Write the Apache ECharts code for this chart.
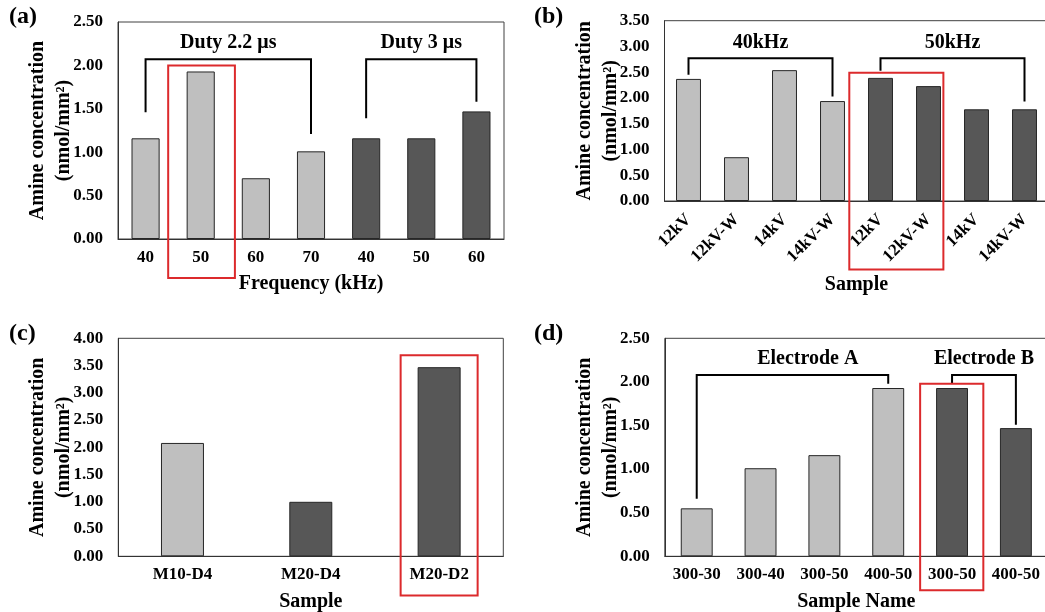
<!DOCTYPE html>
<html>
<head>
<meta charset="utf-8">
<script src="https://cdn.jsdelivr.net/npm/echarts@6/dist/echarts.min.js"></script>
<style>
  html, body { margin: 0; padding: 0; background: #fff; }
  #chart { width: 1045px; height: 612px; }
</style>
</head>
<body>
<div id="chart"></div>
<script>
// (a) frequency
const freqLabels = ['40', '50', '60', '70', '40', '50', '60'];
const freqValues = [1.16, 1.93, 0.70, 1.01, 1.16, 1.16, 1.47];
const freqGroup = [0, 0, 0, 0, 1, 1, 1];

// (b) voltage
const voltLabels = ['12kV', '12kV-W', '14kV', '14kV-W', '12kV', '12kV-W', '14kV', '14kV-W'];
const voltValues = [2.37, 0.85, 2.54, 1.94, 2.39, 2.23, 1.78, 1.78];
const voltGroup = [0, 0, 0, 0, 1, 1, 1, 1];

// (c) mesh
const meshLabels = ['M10-D4', 'M20-D4', 'M20-D2'];
const meshValues = [2.08, 1.00, 3.47];
const meshGroup = [0, 1, 1];

// (d) electrode
const electrodeLabels = ['300-30', '300-40', '300-50', '400-50', '300-50', '400-50'];
const electrodeValues = [0.55, 1.01, 1.16, 1.93, 1.93, 1.47];
const electrodeGroup = [0, 0, 0, 0, 1, 1];

const yMax = [2.5, 3.5, 4.0, 2.5];

// group brackets: category index range, leg heights, label
const bracketsA = [
  {text: 'Duty 2.2 μs', from: 0, to: 3, left: 1.46, top: 2.07, right: 1.21, textY: 2.26},
  {text: 'Duty 3 μs', from: 4, to: 6, left: 1.39, top: 2.07, right: 1.58, textY: 2.26}
];
const bracketsB = [
  {text: '40kHz', from: 0, to: 3, left: 2.45, top: 2.77, right: 2.03, textY: 3.07},
  {text: '50kHz', from: 4, to: 7, left: 2.53, top: 2.77, right: 1.93, textY: 3.07}
];
const bracketsD = [
  {text: 'Electrode A', from: 0, to: 3, left: 0.66, top: 2.08, right: 1.98, textY: 2.27, at: 0.58},
  {text: 'Electrode B', from: 4, to: 5, left: 1.98, top: 2.08, right: 1.51, textY: 2.27}
];

// red highlight boxes
const boxA = {first: 1, last: 1, top: 2.0, bottom: -0.45, padL: 0.59, padR: 0.62};
const boxB = {first: 4, last: 5, top: 2.49, bottom: -1.33, padL: 0.65, padR: 0.31};
const boxC = {first: 2, last: 2, top: 3.69, bottom: -0.72, padL: 0.30, padR: 0.30};
const boxD = {first: 4, last: 4, top: 1.98, bottom: -0.39, padL: 0.50, padR: 0.49};

const FONT = '"Liberation Serif", "Times New Roman", serif';
const shades = ['#bfbfbf', '#575757'];
const RED = '#dc2a2c';

const grids = [
  {left: 118, top: 22, width: 386, height: 217},
  {left: 664.5, top: 20.7, width: 384, height: 180.3},
  {left: 118.3, top: 338.3, width: 385, height: 218},
  {left: 664.8, top: 338.3, width: 383, height: 218}
].map(g => Object.assign({
  show: true, borderColor: '#404040', borderWidth: 1, outerBoundsMode: 'none'
}, g));

function xAxis(i, labels, name, nameGap, rotate) {
  return {
    type: 'category', gridIndex: i, data: labels,
    name: name, nameLocation: 'middle', nameGap: nameGap, nameMoveOverlap: false,
    nameTextStyle: {fontFamily: FONT, fontWeight: 'bold', fontSize: 20, color: '#000'},
    axisLine: {lineStyle: {color: '#333', width: 1}},
    axisTick: {show: false},
    axisLabel: {
      interval: 0, rotate: rotate || 0, margin: rotate ? 16 : 10,
      fontFamily: FONT, fontWeight: 'bold', fontSize: 17, color: '#000'
    }
  };
}

function yAxis(i) {
  return {
    type: 'value', gridIndex: i, min: 0, max: yMax[i], interval: 0.5,
    name: 'Amine concentration\n(nmol/mm²)', nameLocation: 'middle', nameGap: 41, nameRotate: 90,
    nameMoveOverlap: false,
    nameTextStyle: {fontFamily: FONT, fontWeight: 'bold', fontSize: 20, lineHeight: 26, color: '#000'},
    axisLine: {show: true, lineStyle: {color: '#333', width: 1}},
    axisTick: {show: false},
    splitLine: {show: false},
    axisLabel: {
      margin: 15, formatter: v => v.toFixed(2),
      fontFamily: FONT, fontWeight: 'bold', fontSize: 17, color: '#000'
    }
  };
}

function bars(i, values, group, width) {
  return {
    type: 'bar', xAxisIndex: i, yAxisIndex: i, barWidth: width,
    data: values.map((v, k) => ({
      value: v,
      itemStyle: {color: shades[group[k]], borderColor: '#262626', borderWidth: 1}
    })),
    z: 2
  };
}

function brackets(i, list) {
  return {
    type: 'custom', xAxisIndex: i, yAxisIndex: i, z: 4, silent: true,
    data: list.map(b => [b.from, b.top]),
    renderItem: (params, api) => {
      const b = list[params.dataIndex];
      const p0 = api.coord([b.from, b.left]);
      const p1 = api.coord([b.from, b.top]);
      const p2 = api.coord([b.to, b.top]);
      const p3 = api.coord([b.to, b.right]);
      const frac = b.at != null ? b.at : 0.5;
      const tx = p1[0] + (p2[0] - p1[0]) * frac;
      const ty = api.coord([b.from, b.textY])[1];
      return {
        type: 'group',
        children: [
          {type: 'polyline', shape: {points: [p0, p1, p2, p3]},
            style: {stroke: '#000', lineWidth: 2, fill: null, lineJoin: 'miter'}},
          {type: 'text', x: tx, y: ty,
            style: {text: b.text, fontFamily: FONT, fontWeight: 'bold', fontSize: 20,
              fill: '#000', align: 'center', verticalAlign: 'middle'}}
        ]
      };
    }
  };
}

function highlight(i, box) {
  return {
    type: 'custom', xAxisIndex: i, yAxisIndex: i, z: 5, silent: true,
    data: [[box.first, box.top]],
    renderItem: (params, api) => {
      const band = api.size([1, 0])[0];
      const a = api.coord([box.first, box.top]);
      const b = api.coord([box.last, box.bottom]);
      const x0 = a[0] - band * box.padL;
      const x1 = b[0] + band * box.padR;
      return {
        type: 'rect',
        shape: {x: x0, y: a[1], width: x1 - x0, height: b[1] - a[1]},
        style: {stroke: RED, lineWidth: 2, fill: null}
      };
    }
  };
}

const panelTitles = [
  {text: '(a)', left: 9, top: 5},
  {text: '(b)', left: 534, top: 5},
  {text: '(c)', left: 9, top: 322},
  {text: '(d)', left: 534, top: 322}
].map(t => Object.assign({
  textStyle: {fontFamily: FONT, fontWeight: 'bold', fontSize: 24, color: '#000'}, padding: 0
}, t));

const chart = echarts.init(document.getElementById('chart'), null, {renderer: 'canvas'});
chart.setOption({
  animation: false,
  backgroundColor: '#fff',
  title: panelTitles,
  grid: grids,
  xAxis: [
    xAxis(0, freqLabels, 'Frequency (kHz)', 35),
    xAxis(1, voltLabels, 'Sample', 74, 45),
    xAxis(2, meshLabels, 'Sample', 36),
    xAxis(3, electrodeLabels, 'Sample Name', 36)
  ],
  yAxis: [yAxis(0), yAxis(1), yAxis(2), yAxis(3)],
  series: [
    bars(0, freqValues, freqGroup, '51%'),
    bars(1, voltValues, voltGroup, '52%'),
    bars(2, meshValues, meshGroup, '33.5%'),
    bars(3, electrodeValues, electrodeGroup, '50%'),
    brackets(0, bracketsA),
    brackets(1, bracketsB),
    brackets(3, bracketsD),
    highlight(0, boxA),
    highlight(1, boxB),
    highlight(2, boxC),
    highlight(3, boxD)
  ]
});
</script>
</body>
</html>
